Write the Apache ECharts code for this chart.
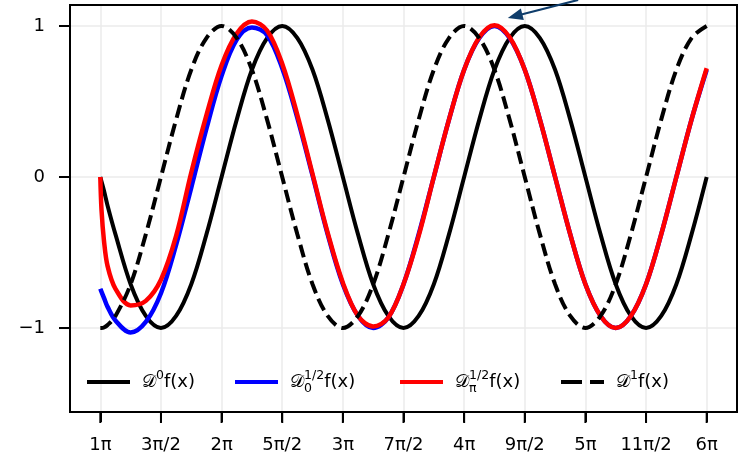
<!DOCTYPE html>
<html>
<head>
<meta charset="utf-8">
<script src="https://cdn.jsdelivr.net/npm/echarts@6/dist/echarts.min.js"></script>
<style>html,body{margin:0;padding:0;background:#fff}#c{width:745px;height:457px}</style>
</head>
<body>
<div id="c"></div>
<script>
// x positions in units of pi
var xs = [1, 1.01, 1.03, 1.06, 1.125, 1.25, 1.375, 1.5, 1.625, 1.75, 1.875,
  2, 2.125, 2.25, 2.375, 2.5, 2.625, 2.75, 2.875,
  3, 3.125, 3.25, 3.375, 3.5, 3.625, 3.75, 3.875,
  4, 4.125, 4.25, 4.375, 4.5, 4.625, 4.75, 4.875,
  5, 5.125, 5.25, 5.375, 5.5, 5.625, 5.75, 5.875, 6];

// D^0 f(x)
var d0 = [0, -0.03, -0.09, -0.19, -0.38, -0.71, -0.92, -1, -0.92, -0.71, -0.38,
  0, 0.38, 0.71, 0.92, 1, 0.92, 0.71, 0.38,
  0, -0.38, -0.71, -0.92, -1, -0.92, -0.71, -0.38,
  0, 0.38, 0.71, 0.92, 1, 0.92, 0.71, 0.38,
  0, -0.38, -0.71, -0.92, -1, -0.92, -0.71, -0.38, 0];

// D_0^{1/2} f(x)
var dHalf0 = [-0.74, -0.76, -0.80, -0.86, -0.95, -1.03, -0.96, -0.77, -0.45, -0.07, 0.32,
  0.67, 0.91, 0.99, 0.94, 0.72, 0.39, 0.01, -0.38,
  -0.71, -0.92, -1.0, -0.93, -0.71, -0.38, 0, 0.38,
  0.71, 0.92, 1.0, 0.92, 0.71, 0.38, 0, -0.38,
  -0.71, -0.92, -1.0, -0.92, -0.71, -0.38, 0, 0.38, 0.71];

// D_pi^{1/2} f(x)
var dHalfPi = [0, -0.22, -0.42, -0.59, -0.74, -0.85, -0.82, -0.68, -0.39, 0.03, 0.41,
  0.74, 0.95, 1.03, 0.97, 0.75, 0.41, 0.02, -0.37,
  -0.70, -0.92, -0.99, -0.93, -0.71, -0.39, 0, 0.38,
  0.71, 0.925, 1.005, 0.925, 0.71, 0.38, 0, -0.38,
  -0.71, -0.92, -1.0, -0.92, -0.71, -0.38, 0, 0.38, 0.72];

// D^1 f(x)
var d1 = [-1, -1.0, -0.996, -0.98, -0.92, -0.71, -0.38, 0, 0.38, 0.71, 0.92,
  1, 0.92, 0.71, 0.38, 0, -0.38, -0.71, -0.92,
  -1, -0.92, -0.71, -0.38, 0, 0.38, 0.71, 0.92,
  1, 0.92, 0.71, 0.38, 0, -0.38, -0.71, -0.92,
  -1, -0.92, -0.71, -0.38, 0, 0.38, 0.71, 0.92, 1];

var xTickValues = [1, 1.5, 2, 2.5, 3, 3.5, 4, 4.5, 5, 5.5, 6];
var xTickLabels = ['1π', '3π/2', '2π', '5π/2', '3π', '7π/2', '4π', '9π/2', '5π', '11π/2', '6π'];
var yTickValues = [-1, 0, 1];
var yTickLabels = ['−1', '0', '1'];

var seriesNames = ['d0', 'dHalf0', 'dHalfPi', 'd1'];
var legendLabels = [
  '{d|𝒟}{sup|0}{t|f(x)}',
  '{d|𝒟}{subz|0}{sup|1/2}{t|f(x)}',
  '{d|𝒟}{subz|π}{sup|1/2}{t|f(x)}',
  '{d|𝒟}{sup|1}{t|f(x)}'
];

// annotation arrow (start, tip) in data units
var arrowStart = [4.94, 1.172];
var arrowTip = [4.36, 1.053];

function pairs(x, y) { return x.map(function (v, i) { return [v, y[i]]; }); }

var FONT = 'DejaVu Sans';
var rich = {
  d: { fontSize: 18, fontFamily: FONT, color: '#000', lineHeight: 26, padding: [0, 0, 0, 7] },
  t: { fontSize: 18, fontFamily: FONT, color: '#000', lineHeight: 26 },
  sup: { fontSize: 12.5, fontFamily: FONT, color: '#000', lineHeight: 14, verticalAlign: 'top' },
  subz: { fontSize: 12.5, fontFamily: FONT, color: '#000', lineHeight: 12, verticalAlign: 'bottom', width: 0.01 }
};

function mkLegend(i, left, color, dash) {
  return {
    data: [seriesNames[i]],
    left: left, top: 369,
    orient: 'horizontal',
    itemWidth: 43, itemHeight: 14, itemGap: 12,
    padding: 0,
    formatter: function () { return legendLabels[i]; },
    textStyle: { fontSize: 18, fontFamily: FONT, color: '#000', rich: rich },
    itemStyle: { opacity: 0, color: 'transparent', borderWidth: 0 },
    lineStyle: { color: color, width: 4, type: dash || 'solid', opacity: 1 },
    selectedMode: false
  };
}

var chart = echarts.init(document.getElementById('c'), null, { renderer: 'canvas' });
var lineBase = { type: 'line', symbol: 'none', showSymbol: false, smooth: 0.35, animation: false };

var axisCommon = {
  axisLine: { show: true, onZero: false, lineStyle: { color: '#000', width: 2 } },
  splitLine: { show: true, lineStyle: { color: '#ebebeb', width: 1.5 } }
};

chart.setOption({
  animation: false,
  backgroundColor: '#fff',
  grid: { left: 70, right: 8, top: 5, bottom: 45, show: true, borderColor: '#000', borderWidth: 2, backgroundColor: 'transparent', containLabel: false },
  xAxis: Object.assign({
    type: 'value', min: 0.75, max: 6.25,
    axisTick: { show: true, inside: false, length: 10, customValues: xTickValues, lineStyle: { color: '#000', width: 2 } },
    axisLabel: {
      show: true, customValues: xTickValues, margin: 24,
      fontSize: 18, fontFamily: FONT, color: '#000',
      formatter: function (v) { var i = xTickValues.indexOf(v); return i >= 0 ? xTickLabels[i] : ''; }
    }
  }, axisCommon),
  yAxis: Object.assign({
    type: 'value', min: -1.556, max: 1.139,
    axisTick: { show: true, inside: false, length: 10, customValues: yTickValues, lineStyle: { color: '#000', width: 2 } },
    axisLabel: {
      show: true, customValues: yTickValues, margin: 25,
      fontSize: 18, fontFamily: FONT, color: '#000',
      formatter: function (v) { var i = yTickValues.indexOf(v); return i >= 0 ? yTickLabels[i] : ''; }
    }
  }, axisCommon),
  legend: [
    mkLegend(0, 85, '#000'),
    mkLegend(1, 233, '#0000ff'),
    mkLegend(2, 398, '#ff0000'),
    mkLegend(3, 559, '#000', [21, 8])
  ],
  series: [
    Object.assign({}, lineBase, { name: 'd0', data: pairs(xs, d0), z: 2, lineStyle: { color: '#000', width: 4 }, itemStyle: { color: '#000' } }),
    Object.assign({}, lineBase, { name: 'dHalf0', data: pairs(xs, dHalf0), z: 3, lineStyle: { color: '#0000ff', width: 4.5 }, itemStyle: { color: '#0000ff' } }),
    Object.assign({}, lineBase, { name: 'dHalfPi', data: pairs(xs, dHalfPi), z: 4, lineStyle: { color: '#ff0000', width: 4.5 }, itemStyle: { color: '#ff0000' } }),
    Object.assign({}, lineBase, { name: 'd1', data: pairs(xs, d1), z: 5, lineStyle: { color: '#000', width: 4, type: [13, 6] }, itemStyle: { color: '#000' } })
  ]
});

// tick marks, frame and annotation arrow, positioned through the chart's own scales
(function () {
  var g = [];
  var TICK = 11;
  var yBottom = chart.convertToPixel({ yAxisIndex: 0 }, -1.556);
  var yTop = chart.convertToPixel({ yAxisIndex: 0 }, 1.139);
  var xLeft = chart.convertToPixel({ xAxisIndex: 0 }, 0.75);
  var xRight = chart.convertToPixel({ xAxisIndex: 0 }, 6.25);
  g.push({ type: 'rect', silent: true, z: 99, shape: { x: xLeft, y: yTop, width: xRight - xLeft, height: yBottom - yTop }, style: { fill: 'none', stroke: '#000', lineWidth: 2 } });
  xTickValues.forEach(function (v) {
    var px = chart.convertToPixel({ xAxisIndex: 0 }, v);
    g.push({ type: 'line', silent: true, z: 100, shape: { x1: px, y1: yBottom, x2: px, y2: yBottom + TICK }, style: { stroke: '#000', lineWidth: 2 } });
  });
  yTickValues.forEach(function (v) {
    var py = chart.convertToPixel({ yAxisIndex: 0 }, v);
    g.push({ type: 'line', silent: true, z: 100, shape: { x1: xLeft - TICK, y1: py, x2: xLeft, y2: py }, style: { stroke: '#000', lineWidth: 2 } });
  });

  var p0 = chart.convertToPixel({ gridIndex: 0 }, arrowStart);
  var p1 = chart.convertToPixel({ gridIndex: 0 }, arrowTip);
  var dx = p1[0] - p0[0], dy = p1[1] - p0[1];
  var len = Math.sqrt(dx * dx + dy * dy);
  var ux = dx / len, uy = dy / len;
  var headL = 15, headW = 6;
  var bx = p1[0] - ux * headL, by = p1[1] - uy * headL;
  g.push({ type: 'line', silent: true, z: 100, shape: { x1: p0[0], y1: p0[1], x2: bx + ux * 2, y2: by + uy * 2 }, style: { stroke: '#0f3d6b', lineWidth: 2.2 } });
  g.push({ type: 'polygon', silent: true, z: 100, shape: { points: [[p1[0], p1[1]], [bx - uy * headW, by + ux * headW], [bx + uy * headW, by - ux * headW]] }, style: { fill: '#0f3d6b' } });
  chart.setOption({ graphic: g });
})();
</script>
</body>
</html>
